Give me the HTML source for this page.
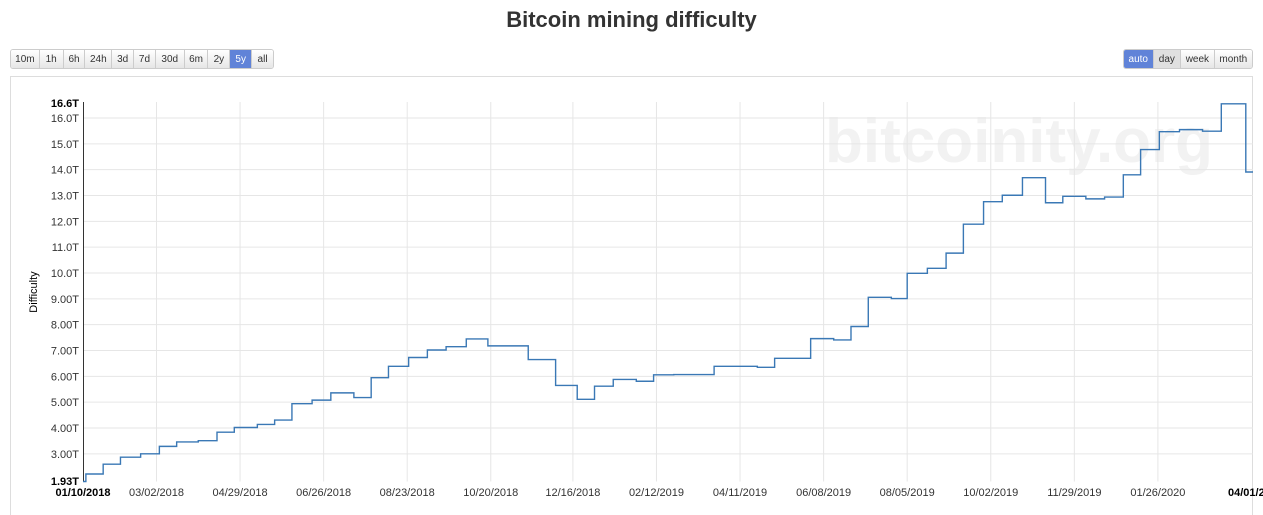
<!DOCTYPE html>
<html><head><meta charset="utf-8"><style>
body{margin:0;width:1263px;height:515px;background:#fff;font-family:"Liberation Sans",sans-serif;overflow:hidden;position:relative}
.t{position:absolute;left:0;width:1263px;top:7px;text-align:center;font-size:22px;font-weight:bold;color:#333}
.g{position:absolute;top:49px;height:20px;display:flex;border:1px solid #ccc;border-radius:3px;overflow:hidden;box-sizing:border-box}
.g div{font-size:10px;color:#333;background:linear-gradient(#fff,#e6e6e6);border-right:1px solid #ccc;display:flex;align-items:center;justify-content:center;box-sizing:border-box}
.g div:last-child{border-right:none}
.g div.on{background:#6083d8;color:#fff}
</style></head><body>
<div class="t">Bitcoin mining difficulty</div>
<div class="g" style="left:10px;width:264px">
<div style="width:29px">10m</div>
<div style="width:24px">1h</div>
<div style="width:22px">6h</div>
<div style="width:27px">24h</div>
<div style="width:22px">3d</div>
<div style="width:22px">7d</div>
<div style="width:29px">30d</div>
<div style="width:24px">6m</div>
<div style="width:22px">2y</div>
<div style="width:22px" class="on">5y</div>
<div style="width:21px">all</div>
</div>
<div class="g" style="left:1123px;width:130px">
<div style="width:30px" class="on">auto</div>
<div style="width:28px;background:#e0e0e0">day</div>
<div style="width:34px">week</div>
<div style="width:38px">month</div>
</div>
<svg id="c" width="1263" height="515" style="position:absolute;left:0;top:0"></svg>
<script>
const days=[0,2,14,26,40,53,65,80,93,105,121,133,145,159,172,188,200,212,226,239,252,266,281,309,328,343,355,368,384,396,410,438,468,480,505,521,533,545,561,572,586,599,611,625,638,652,668,680,696,709,722,734,747,761,777,790,807];
const values=[1.93,2.22,2.60,2.87,3.00,3.29,3.46,3.51,3.84,4.02,4.14,4.31,4.94,5.08,5.36,5.18,5.95,6.39,6.73,7.02,7.15,7.45,7.18,6.65,5.65,5.11,5.62,5.88,5.81,6.06,6.07,6.39,6.35,6.70,7.46,7.41,7.93,9.06,9.01,9.99,10.18,10.77,11.89,12.76,13.01,13.69,12.72,12.97,12.87,12.94,13.80,14.78,15.47,15.55,15.49,16.55,13.91];
const endDay=812;
const yTicks=[3,4,5,6,7,8,9,10,11,12,13,14,15,16];
const yTickLabels=["3.00T","4.00T","5.00T","6.00T","7.00T","8.00T","9.00T","10.0T","11.0T","12.0T","13.0T","14.0T","15.0T","16.0T"];
const xTickDays=[51,109,167,225,283,340,398,456,514,572,630,688,746];
const xTickLabels=["03/02/2018","04/29/2018","06/26/2018","08/23/2018","10/20/2018","12/16/2018","02/12/2019","04/11/2019","06/08/2019","08/05/2019","10/02/2019","11/29/2019","01/26/2020"];
const yMin=1.93,yMax=16.6;
const X=d=>83+d*(1253-83)/endDay;
const Y=v=>481.5-(v-yMin)*(481.5-102.5)/(yMax-yMin);
const s=document.getElementById('c');const NS='http://www.w3.org/2000/svg';
function mk(tag,a,txt){const e=document.createElementNS(NS,tag);for(const k in a)e.setAttribute(k,a[k]);if(txt!=null)e.textContent=txt;s.appendChild(e);return e;}
let e=mk('rect',{x:10.5,y:76.5,width:1242,height:450,fill:'none',stroke:'#ddd'});


e=mk('text',{x:825,y:162,'font-size':'62','font-weight':'bold',fill:'#f2f2f2','font-family':'Liberation Sans,sans-serif'},'bitcoinity.org');


yTicks.forEach((v,i)=>{
 e=mk('line',{x1:83,x2:1253,y1:Y(v),y2:Y(v),stroke:'#e6e6e6'});
 
 
 e=mk('text',{x:79,y:Y(v)+4,'text-anchor':'end','font-size':'11',fill:'#333'},yTickLabels[i]);
 
 
});
xTickDays.forEach((d,i)=>{
 e=mk('line',{x1:X(d),x2:X(d),y1:102,y2:481.5,stroke:'#e6e6e6'});
 
 
 e=mk('text',{x:X(d),y:496,'text-anchor':'middle','font-size':'11',fill:'#333'},xTickLabels[i]);
 
 
});
e=mk('text',{x:79,y:107,'text-anchor':'end','font-size':'11','font-weight':'bold',fill:'#000'},'16.6T');


e=mk('text',{x:79,y:485,'text-anchor':'end','font-size':'11','font-weight':'bold',fill:'#000'},'1.93T');


e=mk('text',{x:83,y:496,'text-anchor':'middle','font-size':'11','font-weight':'bold',fill:'#000'},'01/10/2018');


e=mk('text',{x:1228,y:496,'font-size':'11','font-weight':'bold',fill:'#000'},'04/01/2020');


e=mk('line',{x1:83.5,x2:83.5,y1:102,y2:482,stroke:'#333'});


e=mk('text',{x:0,y:0,'font-size':'11',fill:'#000','text-anchor':'middle',transform:'translate(37,292) rotate(-90)'},'Difficulty');


let p='M'+X(days[0])+','+Y(values[0]);
for(let i=1;i<days.length;i++){p+='H'+X(days[i])+'V'+Y(values[i]);}
p+='H'+X(endDay);
e=mk('path',{d:p,fill:'none',stroke:'#3a78b5','stroke-width':1.4});


</script>
</body></html>
